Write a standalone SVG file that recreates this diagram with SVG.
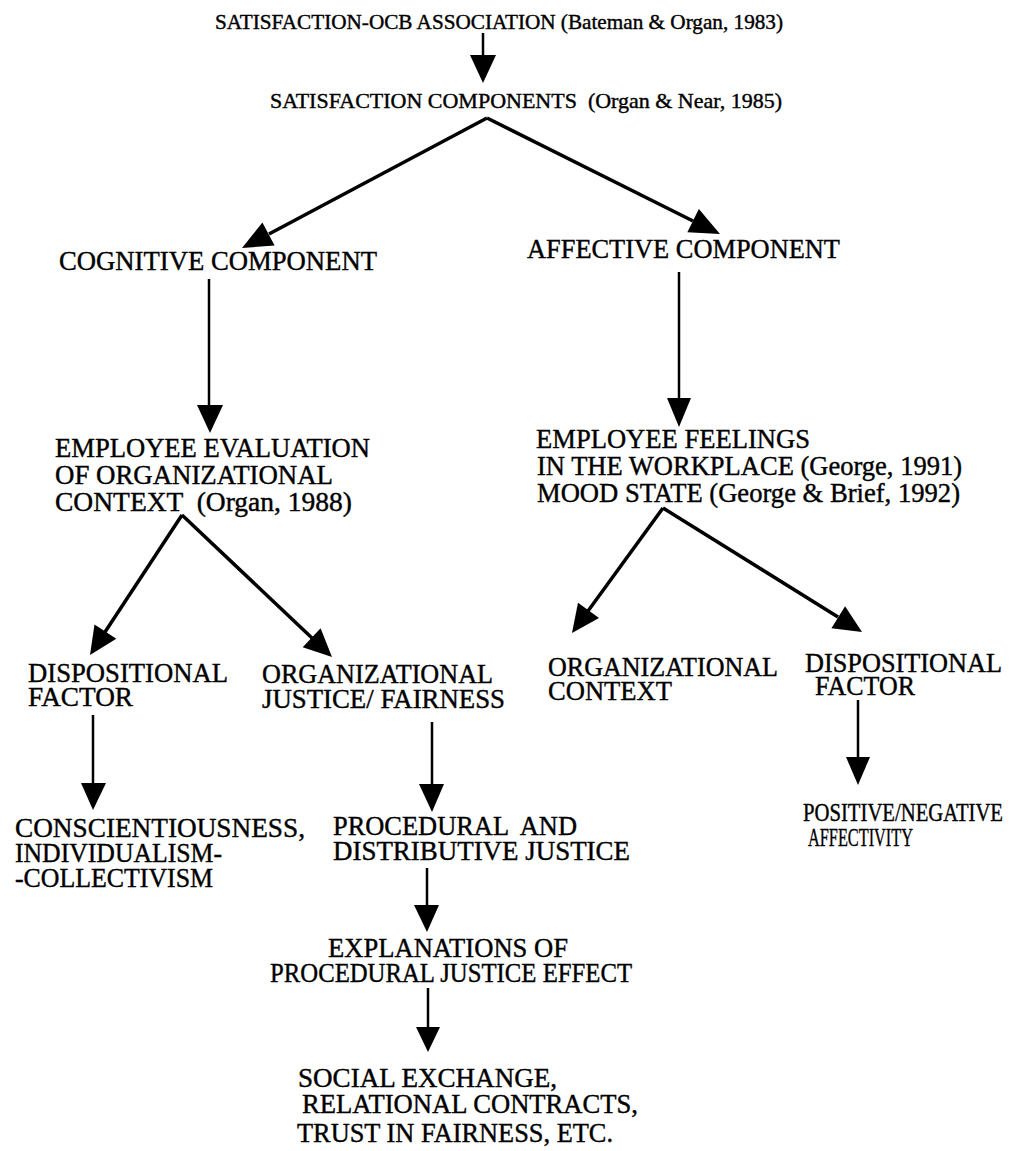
<svg xmlns="http://www.w3.org/2000/svg" width="1013" height="1151" viewBox="0 0 1013 1151">
<style>
text{font-family:"Liberation Serif","Times New Roman",serif;font-size:27px;fill:#000;stroke:#000;stroke-width:0.4;white-space:pre}
.s{font-size:21px}
.m{font-size:22px}
.p{font-size:26px}
.d{stroke:#000;stroke-width:3.5;fill:none}
.v{stroke:#000;stroke-width:2.5;fill:none}
.h{fill:#000;stroke:none}
</style>
<rect width="1013" height="1151" fill="#fff"/>
<g id="n-assoc"><text class="s" x="215" y="29" textLength="568" lengthAdjust="spacingAndGlyphs">SATISFACTION-OCB ASSOCIATION (Bateman &amp; Organ, 1983)</text></g>
<g id="n-comp"><text class="m" x="270" y="108" textLength="512" lengthAdjust="spacingAndGlyphs">SATISFACTION COMPONENTS  (Organ &amp; Near, 1985)</text></g>
<g id="n-cog"><text x="59" y="270" textLength="318" lengthAdjust="spacingAndGlyphs">COGNITIVE COMPONENT</text></g>
<g id="n-aff"><text x="527" y="258" textLength="313" lengthAdjust="spacingAndGlyphs">AFFECTIVE COMPONENT</text></g>
<g id="n-eval">
<text x="55" y="457" textLength="315" lengthAdjust="spacingAndGlyphs">EMPLOYEE EVALUATION</text>
<text x="55" y="484" textLength="278" lengthAdjust="spacingAndGlyphs">OF ORGANIZATIONAL</text>
<text x="55" y="511" textLength="297" lengthAdjust="spacingAndGlyphs">CONTEXT  (Organ, 1988)</text>
</g>
<g id="n-feel">
<text x="536" y="448" textLength="274" lengthAdjust="spacingAndGlyphs">EMPLOYEE FEELINGS</text>
<text x="537" y="475" textLength="425" lengthAdjust="spacingAndGlyphs">IN THE WORKPLACE (George, 1991)</text>
<text x="537" y="502" textLength="423" lengthAdjust="spacingAndGlyphs">MOOD STATE (George &amp; Brief, 1992)</text>
</g>
<g id="n-disp1">
<text x="28" y="682" textLength="200" lengthAdjust="spacingAndGlyphs">DISPOSITIONAL</text>
<text x="28" y="706" textLength="105" lengthAdjust="spacingAndGlyphs">FACTOR</text>
</g>
<g id="n-just">
<text x="262" y="683" textLength="231" lengthAdjust="spacingAndGlyphs">ORGANIZATIONAL</text>
<text x="262" y="708" textLength="243" lengthAdjust="spacingAndGlyphs">JUSTICE/ FAIRNESS</text>
</g>
<g id="n-orgctx">
<text x="548" y="676" textLength="230" lengthAdjust="spacingAndGlyphs">ORGANIZATIONAL</text>
<text x="548" y="700" textLength="124" lengthAdjust="spacingAndGlyphs">CONTEXT</text>
</g>
<g id="n-disp2">
<text x="805" y="672" textLength="197" lengthAdjust="spacingAndGlyphs">DISPOSITIONAL</text>
<text x="815" y="695" textLength="100" lengthAdjust="spacingAndGlyphs">FACTOR</text>
</g>
<g id="n-consc">
<text x="15" y="837" textLength="290" lengthAdjust="spacingAndGlyphs">CONSCIENTIOUSNESS,</text>
<text x="15" y="862" textLength="207" lengthAdjust="spacingAndGlyphs">INDIVIDUALISM-</text>
<text x="15" y="887" textLength="198" lengthAdjust="spacingAndGlyphs">-COLLECTIVISM</text>
</g>
<g id="n-proc">
<text x="333" y="835" textLength="244" lengthAdjust="spacingAndGlyphs">PROCEDURAL  AND</text>
<text x="333" y="860" textLength="297" lengthAdjust="spacingAndGlyphs">DISTRIBUTIVE JUSTICE</text>
</g>
<g id="n-posneg">
<text class="p" x="803" y="821" textLength="200" lengthAdjust="spacingAndGlyphs">POSITIVE/NEGATIVE</text>
<text class="p" x="808" y="846" textLength="105" lengthAdjust="spacingAndGlyphs">AFFECTIVITY</text>
</g>
<g id="n-expl">
<text x="328" y="957" textLength="240" lengthAdjust="spacingAndGlyphs">EXPLANATIONS OF</text>
<text x="270" y="982" textLength="362" lengthAdjust="spacingAndGlyphs">PROCEDURAL JUSTICE EFFECT</text>
</g>
<g id="n-social">
<text x="298" y="1087" textLength="259" lengthAdjust="spacingAndGlyphs">SOCIAL EXCHANGE,</text>
<text x="302" y="1113" textLength="336" lengthAdjust="spacingAndGlyphs">RELATIONAL CONTRACTS,</text>
<text x="297" y="1142" textLength="316" lengthAdjust="spacingAndGlyphs">TRUST IN FAIRNESS, ETC.</text>
</g>
<g id="connectors">
<line class="v" x1="483" y1="33" x2="483" y2="57"/>
<polygon class="h" points="483,83 470,55 496,55"/>
<line class="d" x1="487" y1="118" x2="269" y2="234"/>
<polygon class="h" points="242,248 262.4,222.4 274.6,245.4"/>
<line class="d" x1="487" y1="118" x2="693" y2="221"/>
<polygon class="h" points="720,234 687.3,232.3 698.9,209"/>
<line class="v" x1="209" y1="279" x2="209" y2="407"/>
<polygon class="h" points="210,433 197,405 223,405"/>
<line class="v" x1="679" y1="272" x2="679" y2="400"/>
<polygon class="h" points="679,427 667,398 691,398"/>
<line class="d" x1="182" y1="515" x2="105" y2="632"/>
<polygon class="h" points="90,655 94.5,624.5 116.3,638.7"/>
<line class="d" x1="182" y1="515" x2="312" y2="638"/>
<polygon class="h" points="332,657 302.7,647.2 320.6,628.3"/>
<line class="d" x1="663" y1="508" x2="588" y2="611"/>
<polygon class="h" points="572,633 578,602.7 599,618"/>
<line class="d" x1="663" y1="508" x2="838" y2="617"/>
<polygon class="h" points="862,632 831.4,628.2 845.1,606.2"/>
<line class="v" x1="93" y1="715" x2="93" y2="785"/>
<polygon class="h" points="93,810 81,783 106,783"/>
<line class="v" x1="432" y1="722" x2="432" y2="786"/>
<polygon class="h" points="432,812 419,784 444,784"/>
<line class="v" x1="858" y1="700" x2="858" y2="759"/>
<polygon class="h" points="858,785 846,757 870,757"/>
<line class="v" x1="427" y1="868" x2="427" y2="907"/>
<polygon class="h" points="427,932 414,905 439,905"/>
<line class="v" x1="428" y1="988" x2="428" y2="1029"/>
<polygon class="h" points="428,1052 416,1027 440,1027"/>
</g>
</svg>
